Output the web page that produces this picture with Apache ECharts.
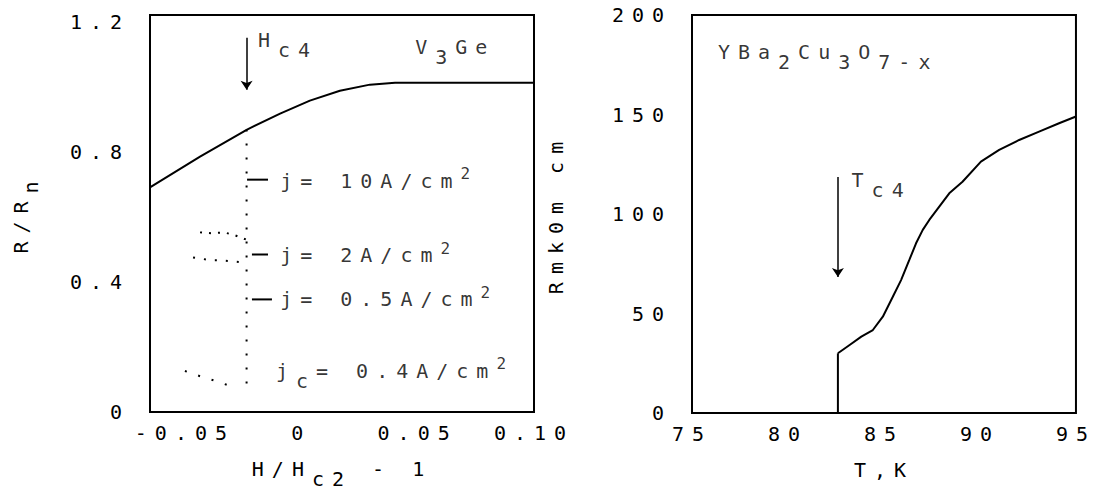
<!DOCTYPE html>
<html>
<head>
<meta charset="utf-8">
<script src="https://cdn.jsdelivr.net/npm/echarts@6/dist/echarts.min.js"></script>
<style>
html,body{margin:0;padding:0;background:#fff;}
#c{width:1099px;height:498px;}
#c text{letter-spacing:0.4em;}
</style>
</head>
<body>
<div id="c"></div>
<script>
// ---------------- data ----------------
// Left panel: V3Ge, R/Rn versus H/Hc2 - 1
const v3geH = [-0.065, -0.0435, -0.0233, -0.0091, 0.0037, 0.0166, 0.0295, 0.0403, 0.100];
const v3geR = [0.690, 0.785, 0.868, 0.917, 0.957, 0.987, 1.006, 1.012, 1.012];
const hc4Field = -0.0235;
const hc4DropR = [0.868, 0.061];
const hc4ArrowR = [1.150, 0.990];
const dotsAH = [-0.0435, -0.0384, -0.0332, -0.0285, -0.0237];
const dotsAR = [0.552, 0.549, 0.552, 0.543, 0.530];
const dotsBH = [-0.0465, -0.0384, -0.0349, -0.0293, -0.0250];
const dotsBR = [0.475, 0.466, 0.466, 0.463, 0.460];
const dotsCH = [-0.0500, -0.0435, -0.0366, -0.0306];
const dotsCR = [0.126, 0.110, 0.095, 0.080];
const leaderH0 = [-0.0233, -0.0212, -0.0212];
const leaderH1 = [-0.0143, -0.0143, -0.0126];
const leaderR = [0.714, 0.484, 0.346];
const leftNoteText = ['H{sub|c4}', 'V{sub|3}Ge', 'j= 10A/cm{sup|2}', 'j= 2A/cm{sup|2}', 'j= 0.5A/cm{sup|2}', 'j{sub|c}= 0.4A/cm{sup|2}'];
const leftNoteH = [-0.0186, 0.0489, -0.0091, -0.0091, -0.0091, -0.0109];
const leftNoteR = [1.143, 1.122, 0.711, 0.481, 0.346, 0.126];
const leftXTicks = [-0.05, 0, 0.05, 0.10];
const leftXLabels = ['-0.05', '0', '0.05', '0.10'];
const leftYTicks = [0, 0.4, 0.8, 1.2];
const leftYLabels = ['0', '0.4', '0.8', '1.2'];

// Right panel: YBa2Cu3O7-x, R versus T
const ybcoJumpT = [82.60, 82.60];
const ybcoJumpR = [0, 30.0];
const ybcoT = [82.60, 83.21, 83.82, 84.42, 84.94, 85.46, 85.89, 86.32, 86.67, 87.02, 87.36, 87.88, 88.40, 89.09, 90.05, 91.00, 92.04, 93.08, 94.12, 95.00];
const ybcoR = [30.0, 34.2, 38.4, 41.7, 48.4, 58.4, 66.8, 76.9, 85.3, 92.0, 97.0, 103.7, 110.4, 116.2, 126.3, 132.2, 137.2, 141.4, 145.6, 149.0];
const tc4Temp = 82.60;
const tc4ArrowR = [118.6, 68.3];
const rightNoteText = ['YBa{sub|2}Cu{sub|3}O{sub|7-x}', 'T{sub|c4}'];
const rightNoteT = [76.35, 83.31];
const rightNoteR = [181.4, 117.1];
const rightXTicks = [75, 80, 85, 90, 95];
const rightYTicks = [0, 50, 100, 150, 200];

// ---------------- text measuring with letter spacing ----------------
const FONT = 'DejaVu Sans Mono';
const SPACING = 0.4;
const mctx = document.createElement('canvas').getContext('2d');
if (echarts.setPlatformAPI) {
  echarts.setPlatformAPI({
    measureText: function (text, font) {
      text = text == null ? '' : String(text);
      mctx.font = font || '12px sans-serif';
      const w = mctx.measureText(text).width;
      const m = /(\d+(?:\.\d+)?)px/.exec(font || '');
      const fs = m ? parseFloat(m[1]) : 12;
      return { width: w + text.length * fs * SPACING };
    }
  });
}

const chart = echarts.init(document.getElementById('c'), null, { renderer: 'svg' });
const base = { fontFamily: FONT, fontSize: 20, color: '#000' };
const rich = {
  sub: { fontFamily: FONT, fontSize: 20, color: '#000', padding: [20, 0, 0, 0] },
  sup: { fontFamily: FONT, fontSize: 16, color: '#000', padding: [0, 0, 14, 0] }
};
function pickLabel(ticks, labels) {
  return function (v) {
    for (let i = 0; i < ticks.length; i++) if (Math.abs(v - ticks[i]) < 1e-6) return labels[i];
    return '';
  };
}
function pairs(xs, ys) { return xs.map((x, i) => [x, ys[i]]); }
const black = '#000';
function lineSeries(g, data, width, type) {
  return {
    type: 'line', xAxisIndex: g, yAxisIndex: g, data: data, showSymbol: false, symbol: 'none',
    silent: true, lineStyle: { color: black, width: width, type: type || 'solid' }
  };
}
function noteSeries(g, xs, ys, texts, arrow) {
  return {
    type: 'scatter', xAxisIndex: g, yAxisIndex: g, silent: true, symbolSize: 0.1,
    itemStyle: { color: 'rgba(0,0,0,0)' },
    data: xs.map((x, i) => ({
      value: [x, ys[i]],
      label: { show: true, position: 'right', distance: 0, formatter: () => texts[i], ...base, rich: rich }
    })),
    markLine: {
      silent: true, symbol: ['none', 'arrow'], symbolSize: 9, label: { show: false },
      lineStyle: { color: black, width: 1.5, type: 'solid' },
      data: [[{ coord: arrow[0] }, { coord: arrow[1] }]]
    }
  };
}
const axisCommon = {
  axisLine: { show: false }, axisTick: { show: false }, splitLine: { show: false }
};

const series = [
  lineSeries(0, pairs(v3geH, v3geR), 2),
  lineSeries(0, [[hc4Field, hc4DropR[0]], [hc4Field, hc4DropR[1]]], 2, [2, 12]),
  lineSeries(0, pairs(dotsAH, dotsAR), 2, [2, 7]),
  lineSeries(0, pairs(dotsBH, dotsBR), 2, [2, 9]),
  lineSeries(0, pairs(dotsCH, dotsCR), 2, [2, 12]),
  lineSeries(0, [[leaderH0[0], leaderR[0]], [leaderH1[0], leaderR[0]]], 2),
  lineSeries(0, [[leaderH0[1], leaderR[1]], [leaderH1[1], leaderR[1]]], 2),
  lineSeries(0, [[leaderH0[2], leaderR[2]], [leaderH1[2], leaderR[2]]], 2),
  noteSeries(0, leftNoteH, leftNoteR, leftNoteText, [[hc4Field, hc4ArrowR[0]], [hc4Field, hc4ArrowR[1]]]),
  lineSeries(1, pairs(ybcoJumpT, ybcoJumpR), 2),
  lineSeries(1, pairs(ybcoT, ybcoR), 2),
  noteSeries(1, rightNoteT, rightNoteR, rightNoteText, [[tc4Temp, tc4ArrowR[0]], [tc4Temp, tc4ArrowR[1]]])
];

chart.setOption({
  animation: false,
  backgroundColor: '#fff',
  textStyle: base,
  grid: [
    { left: 150, top: 15, width: 384, height: 398, show: true, borderColor: black, borderWidth: 2, backgroundColor: 'transparent' },
    { left: 692, top: 15, width: 385, height: 398, show: true, borderColor: black, borderWidth: 2, backgroundColor: 'transparent' }
  ],
  xAxis: [
    { type: 'value', gridIndex: 0, min: -0.065, max: 0.10, interval: 0.005, ...axisCommon,
      axisLabel: { ...base, margin: 7, formatter: pickLabel(leftXTicks, leftXLabels) },
      name: 'H/H{sub|c2} - 1', nameLocation: 'middle', nameGap: 33, nameTextStyle: { ...base, rich: rich } },
    { type: 'value', gridIndex: 1, min: 75, max: 95, interval: 5, ...axisCommon,
      axisLabel: { ...base, margin: 7, formatter: pickLabel(rightXTicks, rightXTicks.map(String)) },
      name: 'T,K', nameLocation: 'middle', nameGap: 43, nameTextStyle: { ...base } }
  ],
  yAxis: [
    { type: 'value', gridIndex: 0, min: 0, max: 1.22, interval: 0.4, ...axisCommon,
      axisLabel: { ...base, margin: 20, formatter: pickLabel(leftYTicks, leftYLabels) },
      name: 'R/R{sub|n}', nameLocation: 'middle', nameGap: 105, nameTextStyle: { ...base, rich: rich } },
    { type: 'value', gridIndex: 1, min: 0, max: 200, interval: 50, ...axisCommon,
      axisLabel: { ...base, margin: 20, formatter: pickLabel(rightYTicks, rightYTicks.map(String)) },
      name: 'Rmk0m cm', nameLocation: 'middle', nameGap: 122, nameTextStyle: { ...base } }
  ],
  series: series
});
</script>
</body>
</html>
